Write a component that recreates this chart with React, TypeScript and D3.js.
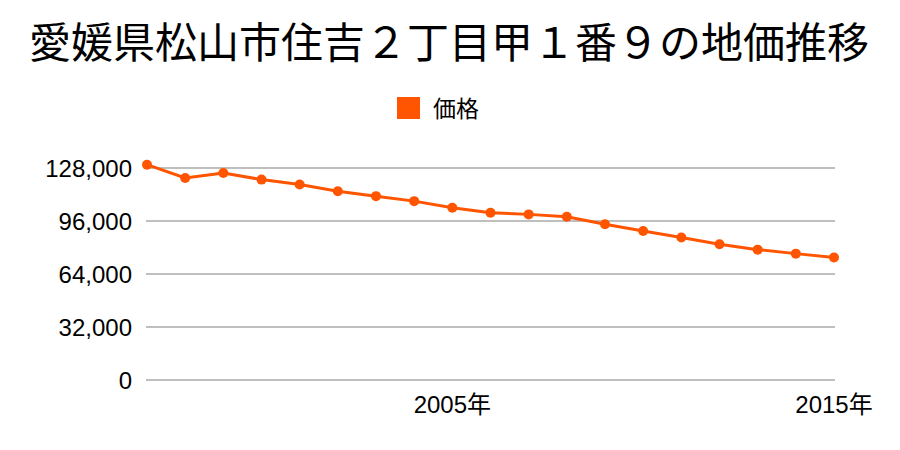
import React from "react";
import * as d3 from "d3";

const years = [1997, 1998, 1999, 2000, 2001, 2002, 2003, 2004, 2005, 2006, 2007, 2008, 2009, 2010, 2011, 2012, 2013, 2014, 2015];
const prices = [130000, 122000, 125000, 121000, 118000, 114000, 111000, 108000, 104000, 101000, 100000, 98600, 94000, 90000, 86000, 82000, 78700, 76300, 74000];
const yTicks = [0, 32000, 64000, 96000, 128000];
const xTickYears = [2005, 2015];
const title = "愛媛県松山市住吉２丁目甲１番９の地価推移";
const seriesName = "価格";

const CJK = "'Noto Sans CJK JP', sans-serif";
const LATIN = "'Liberation Sans', 'Noto Sans CJK JP', sans-serif";
const COLOR = "#ff5500";

export default function App() {
  const x = d3.scaleLinear().domain([1997, 2015]).range([147, 834]);
  const y = d3.scaleLinear().domain([0, 128000]).range([380, 168]);
  const line = d3
    .line<number>()
    .x((_, i) => x(years[i]))
    .y((d) => y(d));
  const fmt = d3.format(",");
  return (
    <svg width={900} height={450} style={{ position: "absolute", left: 0, top: 0, background: "#fff" }}>
      <text x={449} y={58} textAnchor="middle" fontSize={42} fontFamily={CJK} fill="#000">
        {title}
      </text>
      <rect x={397} y={97} width={23} height={22} fill={COLOR} />
      <text x={433} y={117} fontSize={23} fontFamily={CJK} fill="#000">
        {seriesName}
      </text>
      {yTicks.map((t) => (
        <g key={t}>
          <line x1={146} x2={835} y1={y(t)} y2={y(t)} stroke="#aaa" strokeWidth={1.5} />
          <text x={132} y={y(t) + 8.5} textAnchor="end" fontSize={24} fontFamily={LATIN} fill="#000">
            {fmt(t)}
          </text>
        </g>
      ))}
      {xTickYears.map((yr) => (
        <text key={yr} x={x(yr)} y={413} textAnchor="middle" fontSize={24} fontFamily={LATIN} fill="#000">
          {yr}年
        </text>
      ))}
      <path d={line(prices) || ""} fill="none" stroke={COLOR} strokeWidth={3} />
      {prices.map((p, i) => (
        <circle key={i} cx={x(years[i])} cy={y(p)} r={5} fill={COLOR} />
      ))}
    </svg>
  );
}
